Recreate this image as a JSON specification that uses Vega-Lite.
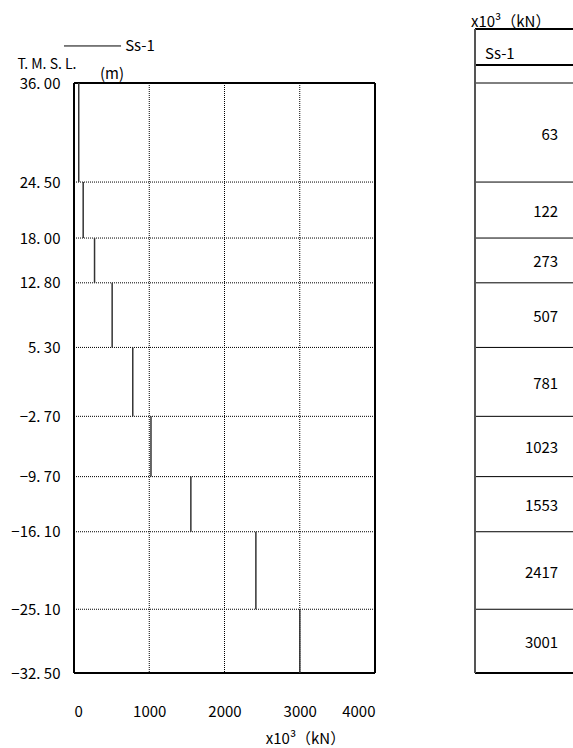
{
  "$schema": "https://vega.github.io/schema/vega-lite/v6.json",
  "padding": {"top": 15, "left": 10, "right": 0, "bottom": 0},
  "background": "white",
  "config": {
    "font": "Noto Sans CJK JP",
    "view": {"stroke": null},
    "axis": {"labelFont": "Noto Sans CJK JP", "labelFontSize": 15, "labelColor": "#000", "titleFont": "Noto Sans CJK JP", "titleFontSize": 15, "titleColor": "#000", "titleFontWeight": "normal", "domain": false, "ticks": false, "grid": false},
    "title": {"font": "Noto Sans CJK JP", "fontSize": 15, "fontWeight": "normal", "color": "#000"},
    "text": {"font": "Noto Sans CJK JP", "fontSize": 15, "color": "#000"}
  },
  "datasets": {
    "seg": [
      {"top": 36.0, "bottom": 24.5, "mid": 30.25, "value": 63},
      {"top": 24.5, "bottom": 18.0, "mid": 21.25, "value": 122},
      {"top": 18.0, "bottom": 12.8, "mid": 15.4, "value": 273},
      {"top": 12.8, "bottom": 5.3, "mid": 9.05, "value": 507},
      {"top": 5.3, "bottom": -2.7, "mid": 1.3, "value": 781},
      {"top": -2.7, "bottom": -9.7, "mid": -6.2, "value": 1023},
      {"top": -9.7, "bottom": -16.1, "mid": -12.9, "value": 1553},
      {"top": -16.1, "bottom": -25.1, "mid": -20.6, "value": 2417},
      {"top": -25.1, "bottom": -32.5, "mid": -28.8, "value": 3001}
    ],
    "grid": [{"g": 1000}, {"g": 2000}, {"g": 3000}],
    "legend": [{"series": "Ss-1"}]
  },
  "hconcat": [
    {
      "width": 301,
      "height": 644,
      "data": {"name": "seg"},
      "layer": [
        {
          "data": {"name": "grid"},
          "mark": {"type": "rule", "color": "#000", "strokeWidth": 1, "strokeDash": [1, 1]},
          "encoding": {
            "x": {"field": "g", "type": "quantitative", "scale": {"domain": [0, 4000], "nice": false, "zero": false},
              "axis": {"orient": "bottom", "values": [0, 1000, 2000, 3000, 4000], "format": "d", "labelPadding": 31, "title": "x10³（kN）", "titleAngle": 0, "titleX": 231, "titleY": 65, "titleAlign": "center", "titleBaseline": "middle"}},
            "y": {"datum": 36, "type": "quantitative", "scale": {"domain": [-32.5, 42.27], "nice": false, "zero": false},
              "axis": {"orient": "left", "values": [36, 24.5, 18, 12.8, 5.3, -2.7, -9.7, -16.1, -25.1, -32.5], "labelExpr": "replace(format(datum.value, '.2f'), '.', '. ')", "labelPadding": 14, "title": "T. M. S. L.", "titleFontSize": 14, "titleAngle": 0, "titleX": -57, "titleY": 35, "titleAlign": "left", "titleBaseline": "middle"}},
            "y2": {"datum": -32.5}
          }
        },
        {
          "transform": [{"filter": "datum.bottom > -32"}],
          "mark": {"type": "rule", "color": "#000", "strokeWidth": 1, "strokeDash": [1, 1]},
          "encoding": {
            "x": {"datum": 0, "type": "quantitative"},
            "x2": {"datum": 4000},
            "y": {"field": "bottom", "type": "quantitative"}
          }
        },
        {
          "mark": {"type": "rect", "fill": null, "stroke": "#000", "strokeWidth": 1},
          "encoding": {
            "x": {"datum": 0, "type": "quantitative"},
            "x2": {"datum": 4000},
            "y": {"datum": 36, "type": "quantitative"},
            "y2": {"datum": -32.5}
          }
        },
        {
          "mark": {"type": "rule", "color": "#333", "strokeWidth": 1.5},
          "encoding": {
            "x": {"field": "value", "type": "quantitative"},
            "y": {"field": "top", "type": "quantitative"},
            "y2": {"field": "bottom"}
          }
        },
        {
          "data": {"name": "legend"},
          "mark": {"type": "rule", "color": "#000", "strokeWidth": 1},
          "encoding": {
            "x": {"datum": -133, "type": "quantitative"},
            "x2": {"datum": 625},
            "y": {"datum": 40.3, "type": "quantitative"}
          }
        },
        {
          "data": {"name": "legend"},
          "mark": {"type": "text", "align": "left", "baseline": "middle"},
          "encoding": {
            "x": {"datum": 680, "type": "quantitative"},
            "y": {"datum": 40.3, "type": "quantitative"},
            "text": {"field": "series"}
          }
        },
        {
          "data": {"name": "legend"},
          "mark": {"type": "text", "align": "center", "baseline": "middle", "text": "(m)"},
          "encoding": {
            "x": {"datum": 505, "type": "quantitative"},
            "y": {"datum": 37.05, "type": "quantitative"}
          }
        }
      ]
    },
    {
      "width": 160,
      "height": 644,
      "data": {"name": "seg"},
      "title": {"text": "x10³（kN）", "anchor": "start", "offset": -2, "dx": -3},
      "layer": [
        {
          "mark": {"type": "rule", "color": "#000", "strokeWidth": 1},
          "encoding": {
            "x": {"datum": 0, "type": "quantitative", "scale": {"domain": [0, 1], "nice": false, "zero": false}, "axis": null},
            "x2": {"datum": 1},
            "y": {"field": "top", "type": "quantitative", "scale": {"domain": [-32.5, 42.27], "nice": false, "zero": false}, "axis": null}
          }
        },
        {
          "mark": {"type": "rule", "color": "#000", "strokeWidth": 1},
          "encoding": {
            "x": {"datum": 0, "type": "quantitative"},
            "x2": {"datum": 1},
            "y": {"datum": -32.5, "type": "quantitative"}
          }
        },
        {
          "mark": {"type": "rule", "color": "#000", "strokeWidth": 1},
          "encoding": {
            "x": {"datum": 0, "type": "quantitative"},
            "x2": {"datum": 1},
            "y": {"datum": 38.09, "type": "quantitative"}
          }
        },
        {
          "mark": {"type": "rule", "color": "#000", "strokeWidth": 1},
          "encoding": {
            "x": {"datum": 0, "type": "quantitative"},
            "x2": {"datum": 1},
            "y": {"datum": 42.27, "type": "quantitative"}
          }
        },
        {
          "mark": {"type": "rule", "color": "#555", "strokeWidth": 2},
          "encoding": {
            "x": {"datum": 0, "type": "quantitative"},
            "y": {"datum": 42.27, "type": "quantitative"},
            "y2": {"datum": -32.5}
          }
        },
        {
          "data": {"name": "legend"},
          "mark": {"type": "text", "align": "left", "baseline": "middle"},
          "encoding": {
            "x": {"datum": 0.0625, "type": "quantitative"},
            "y": {"datum": 39.42, "type": "quantitative"},
            "text": {"field": "series"}
          }
        },
        {
          "mark": {"type": "text", "align": "right", "baseline": "middle", "dy": 2},
          "encoding": {
            "x": {"datum": 0.52, "type": "quantitative"},
            "y": {"field": "mid", "type": "quantitative"},
            "text": {"field": "value", "type": "quantitative", "format": "d"}
          }
        }
      ]
    }
  ],
  "spacing": 100,
  "bounds": "flush"
}
